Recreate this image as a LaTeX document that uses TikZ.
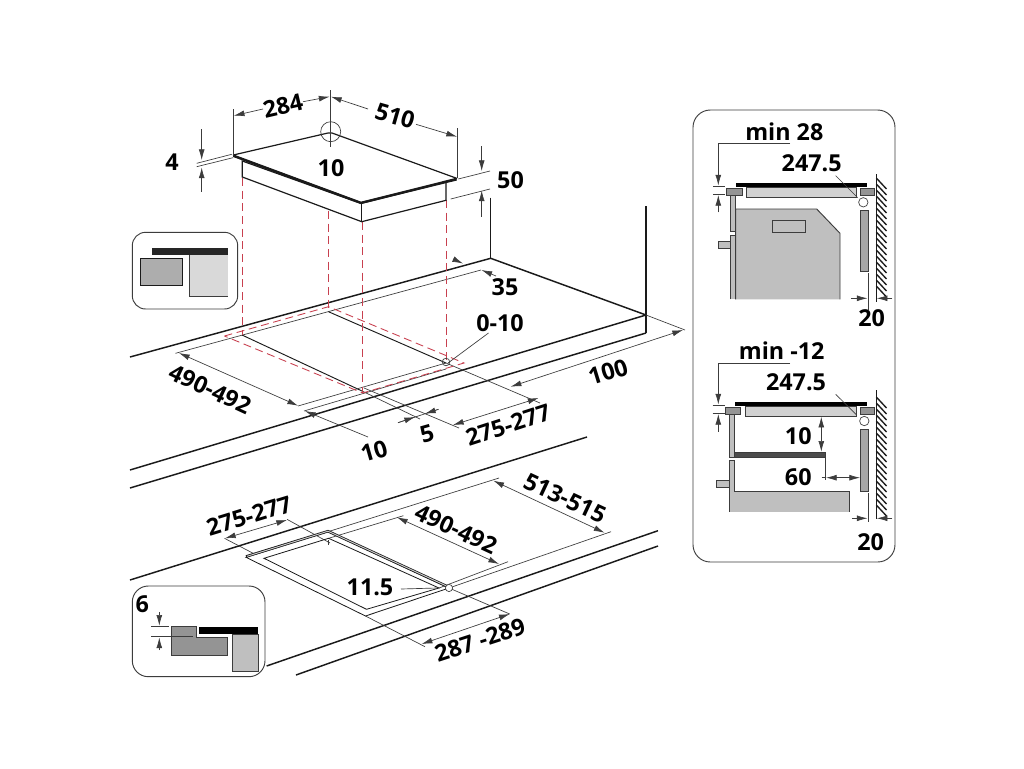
\documentclass[tikz,border=0pt]{standalone}
\usepackage{fontspec}
\setmainfont{Open Sans}[BoldFont={Open Sans Bold}]
\usetikzlibrary{arrows.meta}
\definecolor{redd}{HTML}{C8404F}
\definecolor{ink}{HTML}{1A1A1A}
\definecolor{lineg}{HTML}{3C3C3C}
\tikzset{
  x=0.75pt,y=-0.75pt,
  thick line/.style={line width=1.1pt,draw=ink},
  thin line/.style={line width=0.5pt,draw=lineg},
  red line/.style={line width=0.65pt,draw=redd,dash pattern=on 6pt off 3.5pt},
  dim/.style={line width=0.5pt,draw=lineg,-{Latex[length=8pt,width=4.4pt,color=lineg]}},
  dimb/.style={line width=0.5pt,draw=lineg,{Latex[length=8pt,width=4.4pt,color=lineg]}-{Latex[length=8pt,width=4.4pt,color=lineg]}},
  lab/.style={font=\fontsize{17.5pt}{18pt}\selectfont\bfseries,text=black,inner sep=0pt},
  part/.style={draw=lineg,line width=0.7pt},
}
\begin{document}
\begin{tikzpicture}
\useasboundingbox (0,0) rectangle (1024,768);
\fill[white] (0,0) rectangle (1024,768);

%---------- worktop upper
\draw[thick line] (130,357) -- (490.7,258.3) -- (646,315);
\draw[thick line] (490.7,197.7) -- (490.7,258.3);
\draw[thick line] (646,206) -- (646,333);
\draw[thick line] (130,470) -- (646,315);
\draw[thick line] (130,488) -- (646,333);
% cut-out and extension lines
\draw[thin line] (175.5,353.3) -- (481,270);
\draw[thick line,line width=.7pt] (242,335) -- (362,391);
\draw[thin line] (362,391) -- (420,419);
\draw[thick line,line width=.7pt] (328.5,311.7) -- (446,363);
\draw[thin line] (446,363) -- (540,403);
\draw[thin line] (364,388) -- (459,428);
\draw[thin line] (298,406) -- (446,363);
\draw[thin line] (304,411) -- (446,369);
\draw[thin line] (646,315) -- (685,330);
% red projection
\foreach \x/\a/\b in {242/178/335,328.5/211/308,362/222/393,446.7/200/360}
  \draw[red line] (\x,\a) -- (\x,\b);
\draw[red line] (224.4,336) -- (328.5,306.7) -- (464,363) -- (362.6,393) -- cycle;

% hob
\draw[fill=white,draw=ink,line width=.9pt,line join=round] (233.3,155) -- (328,133) to[out=-5,in=200] (332,133) -- (456.7,178.3) -- (361,202.3) -- cycle;
\draw[fill=white,draw=ink,line width=.9pt] (242.3,161) -- (242.3,177) -- (361.7,221.7) -- (446,200.3) -- (446,182) -- (361,203.5) -- cycle;
\draw[ink,line width=.9pt] (361.7,203) -- (361.7,221.7);
\draw[ink,line width=1.5pt] (233.3,156) -- (361,203) -- (456.7,179.5);
\draw[thin line] (330.7,131.7) circle[radius=10];
\draw[thin line] (330,90) -- (330,146.7);
\draw[thin line] (233.3,109) -- (233.3,155);
\draw[thin line] (457.3,128) -- (457.3,178);
% top dims
\draw[dim] (263,109) -- (233.8,115.7);
\draw[dim] (303,101.7) -- (329.5,96.7);
\draw[dim] (368,109) -- (331,96.7);
\draw[dim] (416,124.3) -- (457,136.7);
\node[lab,rotate=13] (t284) at (283,106) {284};
\node[lab,rotate=-16] (t510) at (395,116) {510};
\node[lab] (t10a) at (331,168) {10};
\node[lab] (t4) at (172,162.5) {4};
\draw[thin line] (196.7,163.3) -- (231.7,154.3);
\draw[thin line] (196.7,166.7) -- (233,157.7);
\draw[dim] (201.7,129.3) -- (201.7,160);
\draw[dim] (201.7,191.7) -- (201.7,167.5);
\node[lab] (t50) at (510.5,180) {50};
\draw[thin line] (458.3,179) -- (490,171);
\draw[thin line] (450.7,199) -- (490,189);
\draw[dim] (481.7,146) -- (481.7,171);
\draw[dim] (481.7,216.7) -- (481.7,190.5);
% 35
\draw[dim] (453,259) -- (463,263.5);
\draw[dim] (496,276) -- (481.5,270);
\node[lab] (t35) at (505,287) {35};
% 0-10
\draw[thin line] (448,363) -- (488.5,333);
\draw[thin line] (446,362) circle[radius=3.8];
\node[lab] (t010) at (500,323) {0-10};
% 100
\draw[dimb] (510.7,386.7) -- (683,330);
\node[lab,rotate=17] (t100) at (608,372) {100};
% 490-492
\draw[dimb] (179,353) -- (298,405.7);
\node[lab,rotate=-25] (t490a) at (210,389) {490-492};
% 10 / 5 / 275
\draw[dim] (368,437) -- (305,411);
\node[lab,rotate=16] (t10b) at (374,451) {10};
\draw[thin line] (398,422.7) -- (438.5,409.3);
\draw[dim] (398,422.7) -- (415,417);
\draw[dim] (438.5,409.3) -- (425,413.7);
\node[lab,rotate=16] (t5) at (427,434) {5};
\draw[dimb] (453,425) -- (538.5,398);
\node[lab,rotate=18] (t275a) at (508,425) {275-277};

%---------- worktop lower
\draw[thick line] (130,580) -- (587,437);
\draw[thick line] (266.6,666) -- (658,530.7);
\draw[thick line] (296,675) -- (658,546);
\draw[thin line] (328,531.7) -- (499,478);
\draw[thin line] (449,588) -- (611,531.7);
\draw[thin line] (328.6,538.3) -- (403.4,515.7);
\draw[thin line] (439,588) -- (508,561.7);
\draw[thin line] (287,519.3) -- (330,543);
\draw[thin line] (224.5,538.3) -- (254.5,554);
\draw[thin line] (449,588) -- (509.7,614);
\draw[thin line] (365.5,616) -- (425,646.7);
\draw[draw=ink,line width=.6pt] (246,557.3) -- (328,531.7) -- (449,588) -- (365.5,616) -- cycle;
\draw[draw=ink,line width=.6pt] (264,558.3) -- (328.6,538.3) -- (439,588) -- (366.5,609.3) -- cycle;
\draw[ink,line width=1.9pt] (246,556.5) -- (328,531.2) -- (449,587.2);
\draw[white!60!gray,line width=.7pt] (247,556.3) -- (328,531.2) -- (447,586.2);
\draw[thin line] (328,540) -- (328,545);
\draw[thin line,fill=white] (449,588) circle[radius=3.6];
\draw[dimb] (493.4,480.7) -- (604.5,532.7);
\node[lab,rotate=-25] (t513) at (565,498) {513-515};
\draw[dimb] (397,517.3) -- (499,564);
\node[lab,rotate=-25] (t490b) at (456,529) {490-492};
\draw[dimb] (225,538.3) -- (287,520);
\node[lab,rotate=17] (t275b) at (249,516) {275-277};
\draw[dimb] (421.7,644) -- (509.7,614);
\node[lab,rotate=18] (t287) at (480,640) {287 -289};
\node[lab] (t115) at (370,587) {11.5};
\draw[thin line] (401,589) -- (437,588);

%---------- inset 1
\draw[thin line,line width=.7pt,fill=white,rounded corners=10pt] (132.3,232.3) rectangle (237.7,309);
\fill[black!85] (152.3,247.7) rectangle (227.7,255);
\draw[ink,fill=black!32,line width=.7pt] (140.7,258.3) rectangle (182.7,285.7);
\fill[black!15] (189.7,255) rectangle (227.7,296.3);
\draw[lineg,line width=.7pt] (189.7,255) -- (189.7,296.3) -- (227.7,296.3);

%---------- inset 2
\draw[thin line,line width=.7pt,fill=white,rounded corners=12pt] (132.3,586) rectangle (265,676.7);
\node[lab] (t6) at (142.3,604) {6};
\draw[part,fill=black!42] (171.7,626.7) -- (196,626.7) -- (196,637) -- (227.7,637) -- (227.7,655.3) -- (171.7,655.3) -- cycle;
\fill[black] (199.3,626.7) rectangle (258.3,634);
\draw[part,fill=black!25] (232.3,634) rectangle (258.3,671.3);
\draw[thin line] (151,626.7) -- (169.3,626.7);
\draw[thin line] (151,636.7) -- (193.3,636.7);
\draw[dim] (159.3,612.3) -- (159.3,625.7);
\draw[dim] (159.3,650) -- (159.3,637.5);

%---------- right panel
\draw[line width=.7pt,draw=lineg,fill=white,rounded corners=13pt] (693,110) rectangle (895,562);

% top section
\node[lab] (tmin28) at (784.3,131.7) {min 28};
\draw[thin line] (790,143.3) -- (718.3,143.3);
\draw[dim] (718.3,143.3) -- (718.3,185.5);
\draw[thin line] (713.3,186) -- (725,186);
\draw[thin line] (713.3,194.3) -- (725,194.3);
\draw[dim] (718.3,212.3) -- (718.3,195);
\node[lab] (t2475a) at (811.7,163.3) {247.5};
\fill[black] (736,183.3) rectangle (867.3,187.3);
\draw[part,fill=black!18] (746.7,187.3) rectangle (856.7,197.3);
\draw[part,fill=black!42] (726,188.3) rectangle (742,195);
\draw[part,fill=black!42] (860,188.3) rectangle (874.7,195);
\draw[thin line,fill=white] (863.3,202.3) circle[radius=4.7];
\draw[thin line] (835.7,175.7) -- (857.7,197.7);
\draw[part,fill=black!25] (730.3,195) rectangle (735.7,231.7);
\fill[black!25] (730.3,235.7) rectangle (735.7,299.3);
\draw[lineg,line width=.7pt] (730.3,299.3) -- (730.3,235.7) -- (735.7,235.7) -- (735.7,299.3);
\fill[black!25] (735.7,209) -- (816.7,209) -- (840,233.3) -- (840,299.3) -- (735.7,299.3) -- cycle;
\draw[lineg,line width=.7pt] (735.7,299.3) -- (735.7,209) -- (816.7,209) -- (840,233.3) -- (840,299.3);
\draw[part,fill=black!25] (772.3,220.7) rectangle (805,232.3);
\draw[part,fill=black!25] (718,241) rectangle (730.3,248.3);
\draw[part,fill=black!35] (860.3,210.3) rectangle (868,271.7);
\draw[ink,line width=1pt] (876.3,174.3) -- (876.3,301.7);
\foreach \y in {178,184,...,286} \draw[ink,line width=1pt] (876.3,\y) -- (886.5,\y+11);
\draw[thin line] (868,273.3) -- (868,310);
\draw[dim] (851,298.3) -- (867.5,298.3);
\draw[dim] (892.3,298.3) -- (876.8,298.3);
\node[lab] (t20a) at (871.7,318.3) {20};

% bottom section
\node[lab] (tmin12) at (781.7,351) {min -12};
\draw[thin line] (790,363.3) -- (718.3,363.3);
\draw[dim] (718.3,363.3) -- (718.3,404.5);
\draw[thin line] (712.7,405) -- (725,405);
\draw[thin line] (712.7,413.3) -- (725,413.3);
\draw[dim] (718.3,431.7) -- (718.3,414);
\node[lab] (t2475b) at (796,382.3) {247.5};
\fill[black] (735,402.3) rectangle (867.3,406);
\draw[part,fill=black!18] (745.3,406) rectangle (856.7,416);
\draw[part,fill=black!42] (725.7,407.3) rectangle (740.7,414);
\draw[part,fill=black!42] (860,407.3) rectangle (874.7,414);
\draw[thin line,fill=white] (864.3,421) circle[radius=4.7];
\draw[thin line] (835.7,394.3) -- (856.7,415);
\draw[part,fill=black!25] (729.3,414) rectangle (734.3,457.3);
\draw[part,fill=black!70] (734.3,452.3) rectangle (825.7,457.3);
\fill[black!25] (729.3,460.7) rectangle (734.3,511.7);
\draw[lineg,line width=.7pt] (729.3,511.7) -- (729.3,460.7) -- (734.3,460.7) -- (734.3,511.7);
\fill[black!25] (734.3,491) rectangle (849,511.7);
\draw[lineg,line width=.7pt] (734.3,491) -- (849,491) -- (849,511.7);
\draw[part,fill=black!25] (716.3,480.3) rectangle (729.3,487.7);
\draw[part,fill=black!35] (860.3,429.3) rectangle (868,491.7);
\node[lab] (t10c) at (798.3,435.7) {10};
\draw[dimb] (821.3,416.7) -- (821.3,451.7);
\node[lab] (t60) at (798.3,476.7) {60};
\draw[thin line] (825.7,457.3) -- (825.7,480);
\draw[thin line] (821.7,477.7) -- (826,477.7);
\draw[dimb] (826,477.7) -- (860,477.7);
\draw[ink,line width=1pt] (876.3,390) -- (876.3,519.3);
\foreach \y in {397,403,...,505} \draw[ink,line width=1pt] (876.3,\y) -- (886.5,\y+11);
\draw[thin line] (868,493.3) -- (868,521.7);
\draw[dim] (852,518.3) -- (867.5,518.3);
\draw[dim] (892.3,518.3) -- (876.8,518.3);
\node[lab] (t20b) at (870.7,541.7) {20};
\end{tikzpicture}
\end{document}
